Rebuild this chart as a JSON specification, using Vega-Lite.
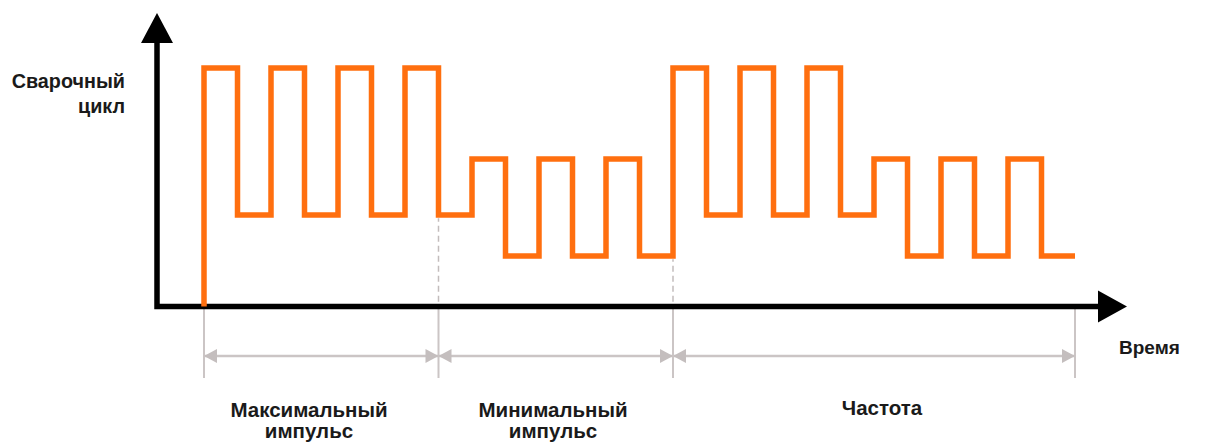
{
  "$schema": "https://vega.github.io/schema/vega-lite/v6.json",
  "width": 1211,
  "height": 443,
  "padding": 0,
  "autosize": {"type": "none"},
  "background": "white",
  "config": {"view": {"stroke": null}},
  "datasets": {
    "wave": [
      {"i": 0, "x": 0, "y": 0}, {"i": 1, "x": 0, "y": 10}, {"i": 2, "x": 1, "y": 3.84}, {"i": 3, "x": 2, "y": 10},
      {"i": 4, "x": 3, "y": 3.84}, {"i": 5, "x": 4, "y": 10}, {"i": 6, "x": 5, "y": 3.84}, {"i": 7, "x": 6, "y": 10},
      {"i": 8, "x": 7, "y": 3.84}, {"i": 9, "x": 8, "y": 6.18}, {"i": 10, "x": 9, "y": 2.12}, {"i": 11, "x": 10, "y": 6.18},
      {"i": 12, "x": 11, "y": 2.12}, {"i": 13, "x": 12, "y": 6.18}, {"i": 14, "x": 13, "y": 2.12}, {"i": 15, "x": 14, "y": 10},
      {"i": 16, "x": 15, "y": 3.84}, {"i": 17, "x": 16, "y": 10}, {"i": 18, "x": 17, "y": 3.84}, {"i": 19, "x": 18, "y": 10},
      {"i": 20, "x": 19, "y": 3.84}, {"i": 21, "x": 20, "y": 6.18}, {"i": 22, "x": 21, "y": 2.12}, {"i": 23, "x": 22, "y": 6.18},
      {"i": 24, "x": 23, "y": 2.12}, {"i": 25, "x": 24, "y": 6.18}, {"i": 26, "x": 25, "y": 2.12}, {"i": 27, "x": 26, "y": 2.12}
    ],
    "axes": [
      {"i": 0, "x": -1.403, "y": 11.1},
      {"i": 1, "x": -1.403, "y": 0},
      {"i": 2, "x": 26.75, "y": 0}
    ],
    "upArrow": [{"x": -1.403, "y": 12.306}],
    "rightArrow": [{"x": 27.552, "y": 0}],
    "dimLines": [
      {"x": 0, "x2": 7, "y": -2.075},
      {"x": 7, "x2": 14, "y": -2.075},
      {"x": 14, "x2": 26, "y": -2.075}
    ],
    "extLines": [
      {"x": 0, "y": -0.105, "y2": -2.998},
      {"x": 7, "y": -0.105, "y2": -2.998},
      {"x": 14, "y": -0.105, "y2": -2.998},
      {"x": 26, "y": -0.105, "y2": -2.998}
    ],
    "dashLines": [
      {"x": 7, "y": 0.2, "y2": 3.7},
      {"x": 14, "y": 0.2, "y2": 1.98}
    ],
    "leftTips": [{"x": 0, "y": -2.075}, {"x": 7, "y": -2.075}, {"x": 14, "y": -2.075}],
    "rightTips": [{"x": 7, "y": -2.075}, {"x": 14, "y": -2.075}, {"x": 26, "y": -2.075}],
    "labelsRight": [
      {"x": -2.358, "y": 9.161, "label": "Сварочный"},
      {"x": -2.358, "y": 8.113, "label": "цикл"}
    ],
    "labelsLeft": [
      {"x": 27.313, "y": -1.992, "label": "Время"}
    ],
    "labelsCenter": [
      {"x": 3.134, "y": -4.633, "label": "Максимальный"},
      {"x": 3.134, "y": -5.514, "label": "импульс"},
      {"x": 10.418, "y": -4.633, "label": "Минимальный"},
      {"x": 10.418, "y": -5.514, "label": "импульс"},
      {"x": 20.239, "y": -4.549, "label": "Частота"}
    ]
  },
  "encoding": {
    "x": {"field": "x", "type": "quantitative", "axis": null, "scale": {"domain": [-6.0896, 30.0597], "nice": false, "zero": false}},
    "y": {"field": "y", "type": "quantitative", "axis": null, "scale": {"domain": [-5.723, 12.851], "nice": false, "zero": false}}
  },
  "layer": [
    {
      "data": {"name": "dashLines"},
      "mark": {"type": "rule", "color": "#c2bcbc", "strokeWidth": 1.5, "strokeDash": [6, 4]},
      "encoding": {"y2": {"field": "y2"}}
    },
    {
      "data": {"name": "extLines"},
      "mark": {"type": "rule", "color": "#cbc5c5", "strokeWidth": 2},
      "encoding": {"y2": {"field": "y2"}}
    },
    {
      "data": {"name": "dimLines"},
      "mark": {"type": "rule", "color": "#cbc5c5", "strokeWidth": 2.5},
      "encoding": {"x2": {"field": "x2"}}
    },
    {
      "data": {"name": "leftTips"},
      "mark": {"type": "point", "shape": "M0,0L1.857,-1L1.857,1Z", "size": 196, "filled": true, "color": "#c4bebe", "opacity": 1, "strokeWidth": 0}
    },
    {
      "data": {"name": "rightTips"},
      "mark": {"type": "point", "shape": "M0,0L-1.857,-1L-1.857,1Z", "size": 196, "filled": true, "color": "#c4bebe", "opacity": 1, "strokeWidth": 0}
    },
    {
      "data": {"name": "axes"},
      "mark": {"type": "line", "color": "#000000", "strokeWidth": 5.5, "strokeJoin": "miter", "strokeCap": "butt"},
      "encoding": {"order": {"field": "i"}}
    },
    {
      "data": {"name": "upArrow"},
      "mark": {"type": "point", "shape": "M0,0L1,1.875L-1,1.875Z", "size": 1024, "filled": true, "color": "#000000", "opacity": 1, "strokeWidth": 0}
    },
    {
      "data": {"name": "rightArrow"},
      "mark": {"type": "point", "shape": "M0,0L-1.8125,-1L-1.8125,1Z", "size": 1024, "filled": true, "color": "#000000", "opacity": 1, "strokeWidth": 0}
    },
    {
      "data": {"name": "wave"},
      "mark": {"type": "line", "color": "#ff6f0f", "strokeWidth": 5.5, "interpolate": "step-after", "strokeJoin": "miter", "strokeCap": "butt"},
      "encoding": {"order": {"field": "i"}}
    },
    {
      "data": {"name": "labelsRight"},
      "mark": {"type": "text", "align": "right", "baseline": "alphabetic", "font": "Liberation Sans", "fontWeight": "bold", "fontSize": 19.8, "color": "#1a1a1a"},
      "encoding": {"text": {"field": "label"}}
    },
    {
      "data": {"name": "labelsLeft"},
      "mark": {"type": "text", "align": "left", "baseline": "alphabetic", "font": "Liberation Sans", "fontWeight": "bold", "fontSize": 19, "color": "#1a1a1a"},
      "encoding": {"text": {"field": "label"}}
    },
    {
      "data": {"name": "labelsCenter"},
      "mark": {"type": "text", "align": "center", "baseline": "alphabetic", "font": "Liberation Sans", "fontWeight": "bold", "fontSize": 20.5, "color": "#1a1a1a"},
      "encoding": {"text": {"field": "label"}}
    }
  ]
}
